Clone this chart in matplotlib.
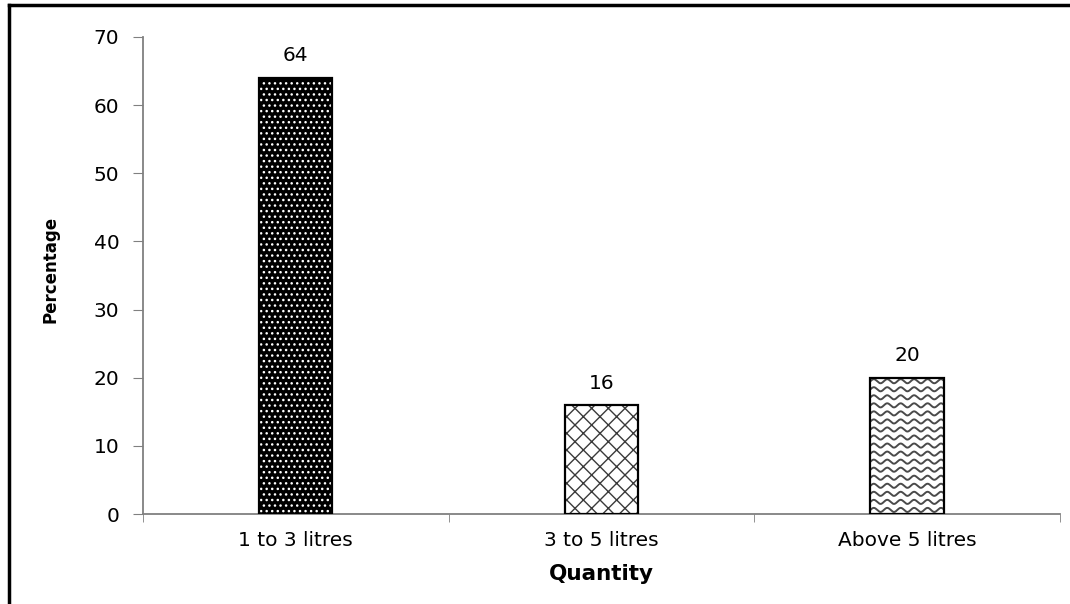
import numpy as np
import matplotlib
matplotlib.use("Agg")
import matplotlib.pyplot as plt
from matplotlib.lines import Line2D

categories = ["1 to 3 litres", "3 to 5 litres", "Above 5 litres"]
values = [64, 16, 20]
yticks = [0, 10, 20, 30, 40, 50, 60, 70]

plt.rcParams['font.family'] = ['DejaVu Sans']
plt.rcParams['hatch.linewidth'] = 1.0

fig = plt.figure(figsize=(10.70, 6.04), dpi=100)
ax = fig.add_axes([0.1336, 0.149, 0.857, 0.790])

x = np.arange(len(categories))
w = 0.24

# bar 1: black with white dots
ax.bar(x[0], values[0], w, color='black', edgecolor='white', hatch='...', linewidth=0, zorder=2)
# bar 2: cross hatch
ax.bar(x[1], values[1], w, color='white', edgecolor='#3a3a3a', hatch='xx', linewidth=0, zorder=2)
# bar 3: white, wavy lines drawn below
ax.bar(x[2], values[2], w, color='white', linewidth=0, zorder=2)
# outlines
ax.bar(x, values, w, fill=False, edgecolor='black', linewidth=1.6, zorder=4)

# wavy pattern inside third bar
x0, x1 = x[2] - w / 2, x[2] + w / 2
xs = np.linspace(x0, x1, 400)
period = 0.044
amp = 0.3
for base in np.arange(0.6, values[2], 1.18):
    ys = base + amp * np.sin(2 * np.pi * (xs - x0) / period)
    ys_clip = np.clip(ys, 0, values[2])
    ax.plot(xs, ys_clip, color='#4a4a4a', lw=1.4, zorder=3, solid_capstyle='butt')

for xi, v in zip(x, values):
    ax.text(xi, v + 1.8, f"{v}", ha='center', va='bottom', fontsize=14.5)

ax.set_xlim(-0.5, len(categories) - 0.5)
ax.set_ylim(0, 70)
ax.set_yticks(yticks)
ax.set_yticklabels([str(t) for t in yticks], fontsize=14.5)
ax.set_xticks(x)
ax.set_xticklabels(categories, fontsize=14.5)
ax.tick_params(axis='x', length=0, pad=12)
ax.set_xticks(np.arange(-0.5, len(categories), 1), minor=True)
ax.tick_params(axis='x', which='minor', length=6, color='#808080', direction='out')
ax.tick_params(axis='y', length=7, color='#808080', direction='out', pad=10)

for s in ['top', 'right']:
    ax.spines[s].set_visible(False)
for s in ['left', 'bottom']:
    ax.spines[s].set_color('#808080')
    ax.spines[s].set_linewidth(1.3)

ax.set_xlabel("Quantity", fontsize=15.5, fontweight='bold', labelpad=10)
ax.set_ylabel("Percentage", fontsize=12, fontweight='bold')
ax.yaxis.set_label_coords(-0.091, 0.512)

# outer frame (left and top edges)
fig.add_artist(Line2D([0.0085, 0.0085], [0, 0.992], transform=fig.transFigure, color='black', lw=2.5))
fig.add_artist(Line2D([0.0085, 1.0], [0.992, 0.992], transform=fig.transFigure, color='black', lw=2.5))

fig.savefig("out.png", dpi=100)
